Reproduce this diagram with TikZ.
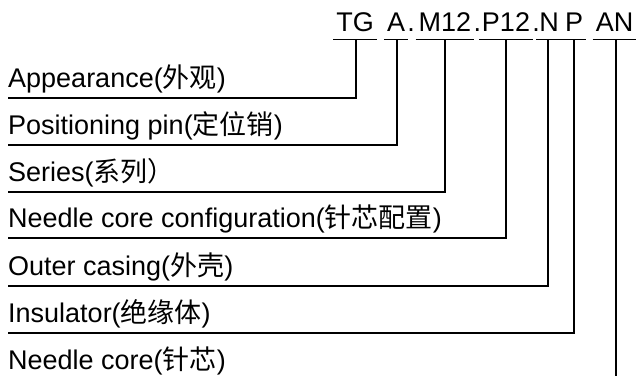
\documentclass[tikz,border=0pt]{standalone}
\usepackage{fontspec}
\setmainfont{Liberation Sans}
\newfontfamily\cjk{Noto Sans CJK SC}
\begin{document}
\begin{tikzpicture}[x=1pt,y=-1pt,
  every node/.style={font=\fontsize{27}{31}\selectfont},
  code/.style={inner xsep=0pt,inner ysep=0pt,text depth=8pt,anchor=south},
  dotnode/.style={inner sep=0pt,anchor=base west,xshift=2pt},
  lab/.style={inner sep=0pt,text depth=10pt,anchor=south west},
  wire/.style={line width=1.6pt,black}]
\useasboundingbox (0,0) rectangle (636,376);
% code pieces
\node[code] (c1) at (355,39.5) {TG};
\node[code] (c2) at (396,39.5) {A};
\node[code] (c3) at (445,39.5) {M12};
\node[code] (c4) at (506,39.5) {P12};
\node[code] (c5) at (549,39.5) {N};
\node[code] (c6) at (574,39.5) {P};
\node[code] (c7) at (614.5,39.5) {AN};
\node[dotnode] (d2) at (c2.base east) {.};
\node[dotnode] (d3) at (c3.base east) {.};
\node[dotnode] (d4) at (c4.base east) {.};
% labels
\node[lab] (l1) at (8,98) {Appearance({\cjk 外观})};
\node[lab] (l2) at (8,145) {Positioning pin({\cjk 定位销})};
\node[lab] (l3) at (8,192) {Series({\cjk 系列）}};
\node[lab] (l4) at (8,238) {Needle core configuration({\cjk 针芯配置})};
\node[lab] (l5) at (8,286) {Outer casing({\cjk 外壳})};
\node[lab] (l6) at (8,333) {Insulator({\cjk 绝缘体})};
\node[lab] (l7) at (8,380) {Needle core({\cjk 针芯})};
\coordinate (bottom) at (616,376);
% underlines
\foreach \c in {c1,c2,c3,c4,c5,c6,c7}
  \draw[wire] ([xshift=-3pt]\c.south west) -- ([xshift=3pt]\c.south east);
% connectors
\draw[wire] (l1.south west) -| ([xshift=1pt]c1.south);
\draw[wire] (l2.south west) -| ([xshift=1pt]c2.south);
\draw[wire] (l3.south west) -| (c3.south);
\draw[wire] (l4.south west) -| (c4.south);
\draw[wire] (l5.south west) -| ([xshift=-1pt]c5.south);
\draw[wire] (l6.south west) -| (c6.south);
\draw[wire] (c7.south -| bottom) -- (bottom);
\end{tikzpicture}
\end{document}
